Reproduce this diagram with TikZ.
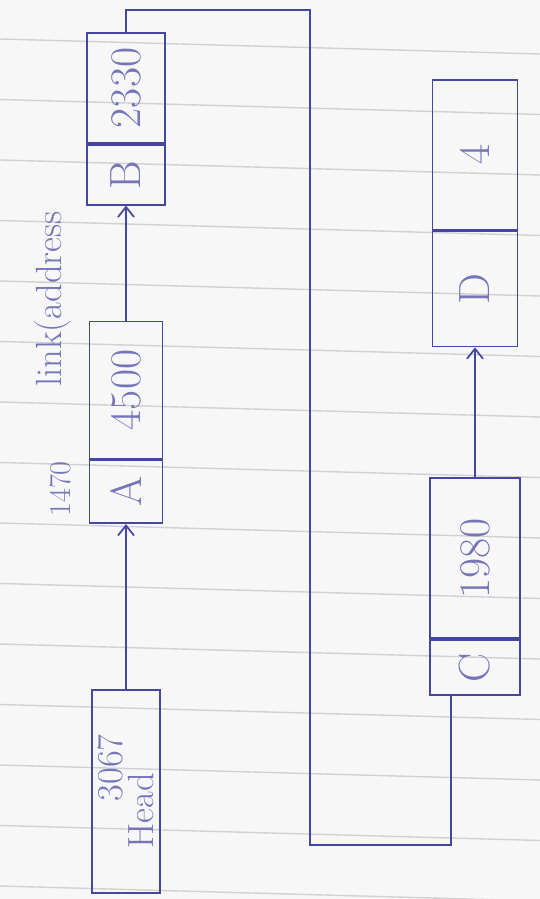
\documentclass[tikz,border=0pt]{standalone}
\usepackage{xcolor}
\usepackage{tikz}
\usepackage{graphicx}
\usetikzlibrary{arrows.meta,positioning,calc}

\definecolor{ink}{RGB}{70,72,160}
\newcommand{\up}[1]{\rotatebox{90}{#1}}

\begin{document}
\begin{tikzpicture}[
    node distance=0cm,
    cell/.style={
        draw=ink,
        line width=1pt,
        inner sep=0pt,
        font=\Huge,
        text=ink!75
    },
    note/.style={text=ink!75, inner sep=0pt},
    arrow/.style={-{Straight Barb[length=2mm,width=3.2mm]}, draw=ink, line width=1pt},
    wire/.style={draw=ink, line width=1pt}
]
\fill[black!3] (0,0) rectangle (10.8,17.98);
\useasboundingbox (0,0) rectangle (10.8,17.98);
\foreach \k in {0,...,14}
    \draw[black!18, line width=0.8pt] (0,{17.2-1.21*\k}) -- (10.8,{16.9-1.21*\k});

\node[cell, font=\huge, minimum width=1.36cm, minimum height=4.06cm] (head) at (2.52,2.15)
    {\up{\shortstack[l]{\hspace{1.3em}3067\\Head}}};

\node[cell, minimum width=1.46cm, minimum height=1.26cm, above=3.3cm of head] (adata) {\up{A}};
\node[cell, minimum width=1.46cm, minimum height=2.74cm, above=0pt of adata] (anext) {\up{4500}};

\node[cell, minimum width=1.56cm, minimum height=1.2cm, above=2.3cm of anext] (bdata) {\up{B}};
\node[cell, minimum width=1.56cm, minimum height=2.2cm, above=0pt of bdata] (bnext) {\up{2330}};

\node[cell, minimum width=1.8cm, minimum height=1.1cm] (cdata) at (9.5,4.63) {\up{C}};
\node[cell, minimum width=1.8cm, minimum height=3.2cm, above=0pt of cdata] (cnext) {\up{1980}};

\node[cell, minimum width=1.7cm, minimum height=2.3cm, above=2.6cm of cnext] (ddata) {\up{D}};
\node[cell, minimum width=1.7cm, minimum height=3.0cm, above=0pt of ddata] (dnext) {\up{4}};

\node[note, font=\LARGE, rotate=90] (addr) at (1.2,8.2) {1470};
\node[note, font=\huge, rotate=90] (linklabel) at (1.05,12.0) {link(address};

\draw[arrow] (head) -- (adata);
\draw[arrow] (anext) -- (bdata);
\draw[arrow] (cnext) -- (ddata);

\coordinate (turntop) at (6.2,17.78);
\coordinate (turnbot) at (6.2,1.08);
\draw[wire] (bnext.north) |- (turntop) -- (turnbot) -| ($(cdata.south west)+(0.44,0)$);
\end{tikzpicture}
\end{document}
